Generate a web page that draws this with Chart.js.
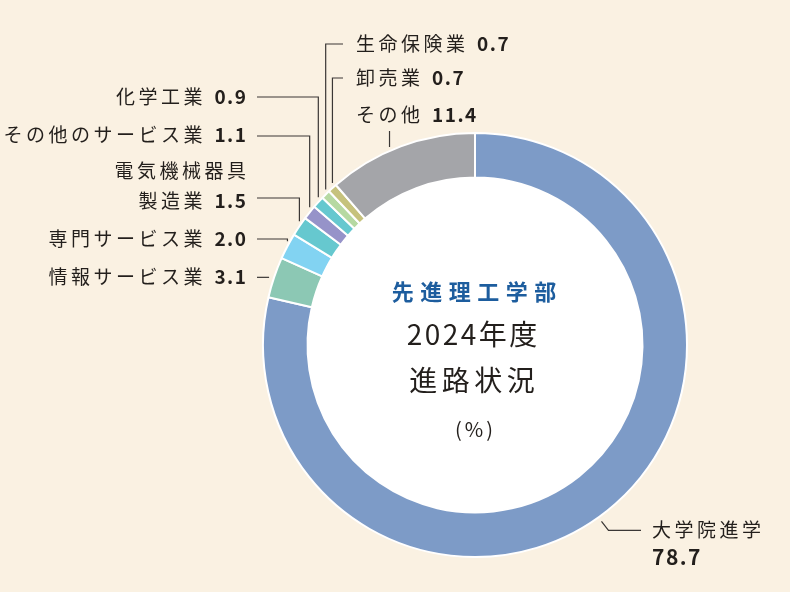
<!DOCTYPE html>
<html lang="ja">
<head>
<meta charset="utf-8">
<script src="https://cdn.jsdelivr.net/npm/chart.js@4/dist/chart.umd.min.js"></script>
<style>
html,body{margin:0;padding:0;background:#faf1e2;}
#wrap{width:790px;height:592px;position:relative;}
canvas{display:block;}
</style>
</head>
<body>
<div id="wrap"><canvas id="c" width="790" height="592"></canvas></div>
<script>
// ---- data ----
const categories = ['大学院進学','情報サービス業','専門サービス業','電気機械器具製造業','その他のサービス業','化学工業','生命保険業','卸売業','その他'];
const values = [78.7, 3.1, 2.0, 1.5, 1.1, 0.9, 0.7, 0.7, 11.4];
const sliceColors = ['#7d9bc7','#8cc8b4','#82d3f2','#66c8cf','#9693c9','#66c8cf','#b6d9a2','#c6c27d','#a4a5a9'];
const centerTitle = '先進理工学部';
const centerLines = ['2024年度','進路状況'];
const centerUnit = '(%)';

// ---- layout of labels / leaders (presentation only) ----
const FONT = '"Noto Sans CJK JP","Noto Sans",sans-serif';
const TEXT = '#231f1c';
const LINE = '#3a3735';
const labelLayout = [
  {i:0, kind:'diag', frac:0.51, endX:641, tx:652, ty:[530,557]},
  {i:1, kind:'h', frac:0.5, startX:257, right:246, ty:[277]},
  {i:2, kind:'v', frac:0.5, startX:257, lineY:239, right:246, ty:[239]},
  {i:3, kind:'v', frac:0.5, startX:257, lineY:198, right:246, ty:[171,201], wrap:6},
  {i:4, kind:'v', frac:0.5, startX:257, lineY:136, right:246, ty:[135]},
  {i:5, kind:'v', frac:0.5, startX:257, lineY:97, right:246, ty:[97]},
  {i:6, kind:'v', frac:0.5, startX:343, lineY:44, left:356, ty:[44]},
  {i:7, kind:'v', frac:0.5, startX:343, lineY:78, left:356, ty:[78]},
  {i:8, kind:'up', frac:0.42, topY:131, left:356, ty:[115]},
];

function setFont(ctx, size, weight, ls){
  ctx.font = weight + ' ' + size + 'px ' + FONT;
  ctx.letterSpacing = ls + 'px';
}
function partWidth(ctx, p){
  setFont(ctx, p.size, p.weight, p.ls);
  return ctx.measureText(p.t).width - p.ls;
}
function drawParts(ctx, parts, x, y, align, gap){
  const ws = parts.map(p => partWidth(ctx, p));
  const total = ws.reduce((a,b)=>a+b,0) + gap*(parts.length-1);
  let cx = align === 'right' ? x - total : (align === 'center' ? x - total/2 : x);
  ctx.textAlign = 'left';
  ctx.textBaseline = 'middle';
  parts.forEach((p,k)=>{
    setFont(ctx, p.size, p.weight, p.ls);
    ctx.fillStyle = p.color || TEXT;
    ctx.fillText(p.t, cx, y);
    cx += ws[k] + gap;
  });
}

const donutDecor = {
  id:'donutDecor',
  beforeDatasetsDraw(chart){
    const arc = chart.getDatasetMeta(0).data[0];
    if(!arc) return;
    const ctx = chart.ctx;
    ctx.save();
    ctx.beginPath();
    ctx.arc(arc.x, arc.y, arc.innerRadius, 0, Math.PI*2);
    ctx.fillStyle = '#ffffff';
    ctx.fill();
    ctx.restore();
  },
  afterDatasetsDraw(chart){
    const ctx = chart.ctx;
    const meta = chart.getDatasetMeta(0);
    const first = meta.data[0];
    const cx = first.x, cy = first.y, R = first.outerRadius;
    ctx.save();
    ctx.strokeStyle = LINE;
    ctx.lineWidth = 1.2;
    const NS = 19, LS = 3.5, GAP = 12;
    labelLayout.forEach(L=>{
      const el = meta.data[L.i];
      const a = el.startAngle + (el.endAngle - el.startAngle)*L.frac;
      const px = cx + R*Math.cos(a), py = cy + R*Math.sin(a);
      ctx.beginPath();
      if(L.kind === 'h'){
        ctx.moveTo(L.startX, py); ctx.lineTo(px - 5, py);
      } else if(L.kind === 'v'){
        ctx.moveTo(L.startX, L.lineY); ctx.lineTo(px, L.lineY); ctx.lineTo(px, py - 5);
      } else if(L.kind === 'up'){
        ctx.moveTo(px, L.topY); ctx.lineTo(px, py - 4);
      } else if(L.kind === 'diag'){
        const sx = cx + (R+5)*Math.cos(a), sy = cy + (R+5)*Math.sin(a);
        ctx.moveTo(sx, sy); ctx.lineTo(sx + 7, sy + 9); ctx.lineTo(L.endX, sy + 9);
      }
      ctx.stroke();

      const name = categories[L.i];
      const val = values[L.i].toFixed(1);
      const nameP = t => ({t, size:NS, weight:'400', ls:LS});
      const valP = {t:val, size:NS, weight:'700', ls:1.5};
      if(L.kind === 'diag'){
        drawParts(ctx, [nameP(name)], L.tx, L.ty[0], 'left', GAP);
        drawParts(ctx, [{t:val, size:21, weight:'700', ls:1.5}], L.tx, L.ty[1], 'left', GAP);
      } else if(L.wrap){
        const l1 = name.slice(0, L.wrap), l2 = name.slice(L.wrap);
        drawParts(ctx, [nameP(l1)], L.right, L.ty[0], 'right', GAP);
        drawParts(ctx, [nameP(l2), valP], L.right, L.ty[1], 'right', GAP);
      } else if(L.right !== undefined){
        drawParts(ctx, [nameP(name), valP], L.right, L.ty[0], 'right', GAP);
      } else {
        drawParts(ctx, [nameP(name), valP], L.left, L.ty[0], 'left', GAP);
      }
    });

    // center text
    drawParts(ctx, [{t:centerTitle, size:22, weight:'700', ls:6.5, color:'#1d5d9e'}], cx - 1, 292, 'center', 0);
    drawParts(ctx, [{t:centerLines[0], size:28, weight:'400', ls:2.5}], cx - 3, 334, 'center', 0);
    drawParts(ctx, [{t:centerLines[1], size:28, weight:'400', ls:4.5}], cx - 3, 380, 'center', 0);
    drawParts(ctx, [{t:centerUnit, size:20, weight:'400', ls:3}], cx - 1, 429, 'center', 0);
    ctx.restore();
  }
};

new Chart(document.getElementById('c'), {
  type:'doughnut',
  data:{
    labels: categories,
    datasets:[{
      data: values,
      backgroundColor: sliceColors,
      borderColor:'#ffffff',
      borderWidth:2
    }]
  },
  options:{
    responsive:false,
    animation:false,
    cutout:'79%',
    layout:{padding:{left:262, top:132, right:102, bottom:34}},
    plugins:{legend:{display:false}, tooltip:{enabled:false}},
    events:[]
  },
  plugins:[donutDecor]
});
</script>
</body>
</html>
